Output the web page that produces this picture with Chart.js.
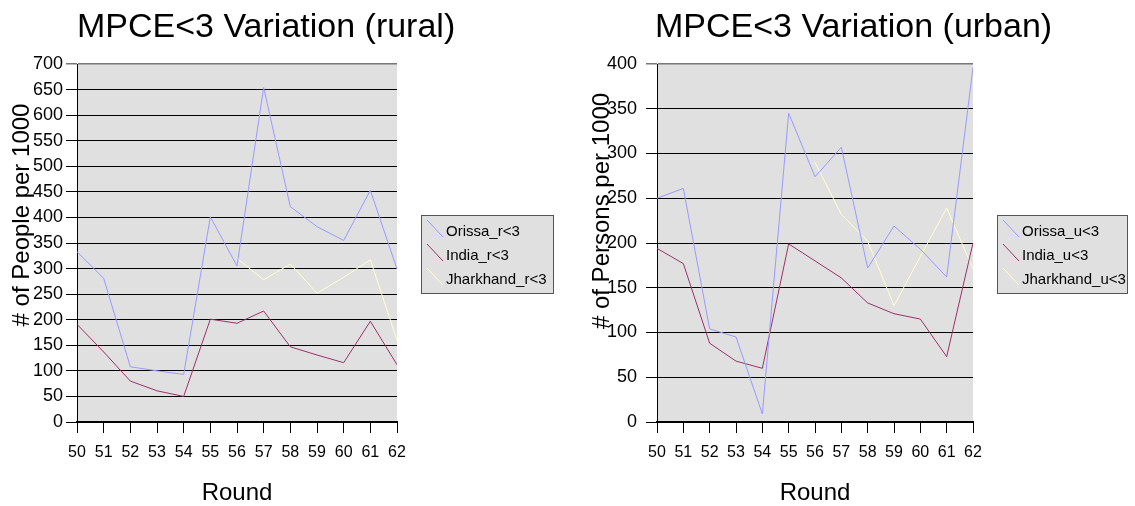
<!DOCTYPE html>
<html><head><meta charset="utf-8">
<script src="https://cdn.jsdelivr.net/npm/chart.js@4.4.1/dist/chart.umd.min.js"></script>
<style>
html,body{margin:0;padding:0;background:#fff;width:1135px;height:506px;overflow:hidden}
canvas{position:absolute;top:0}
#c1{left:0}
#c2{left:567px}
</style></head><body>
<canvas id="c1" width="567" height="506"></canvas>
<canvas id="c2" width="568" height="506"></canvas>
<script>
const rounds = ['50','51','52','53','54','55','56','57','58','59','60','61','62'];
const orissaRural = [333, 281, 108, 100, 93, 401, 305, 654, 421, 382, 355, 453, 299];
const indiaRural = [191, 137, 80, 61, 50, 201, 193, 217, 147, 131, 116, 197, 112];
const jharkhandRural = [null, null, null, null, null, null, 320, 278, 309, 252, 283, 317, 160];
const orissaUrban = [250, 261, 104, 95, 9, 345, 274, 307, 172, 219, 193, 162, 396];
const indiaUrban = [194, 177, 88, 68, 60, 199, 180, 161, 133, 121, 115, 73, 200];
const jharkhandUrban = [null, null, null, null, null, null, 290, 232, 202, 130, 185, 239, 171];
const ruralNames = ['Orissa_r<3', 'India_r<3', 'Jharkhand_r<3'];
const urbanNames = ['Orissa_u<3', 'India_u<3', 'Jharkhand_u<3'];
const seriesColors = ['#9999ff', '#993366', '#ffffcc'];

const FONT = '"Liberation Sans", Arial, sans-serif';

const bgPlugin = {
  id: 'plotBg',
  beforeDraw(chart) {
    const a = chart.chartArea, ctx = chart.ctx;
    ctx.save();
    ctx.fillStyle = '#e0e0e0';
    ctx.fillRect(a.left, a.top, a.right - a.left, a.bottom - a.top);
    ctx.restore();
  }
};

const annotPlugin = {
  id: 'annot',
  afterDraw(chart, args, o) {
    const ctx = chart.ctx;
    ctx.save();
    ctx.fillStyle = '#000';
    ctx.font = '34px ' + FONT;
    ctx.textAlign = 'left';
    ctx.textBaseline = 'alphabetic';
    ctx.fillText(o.title, o.titleX, o.titleY);

    ctx.save();
    ctx.translate(o.yTitleX, o.yTitleY);
    ctx.rotate(-Math.PI / 2);
    ctx.font = '24px ' + FONT;
    ctx.textAlign = 'center';
    ctx.textBaseline = 'middle';
    ctx.fillText(o.yTitle, 0, 0);
    ctx.restore();

    const L = o.legend;
    ctx.fillStyle = '#e0e0e0';
    ctx.fillRect(L.x, L.y, L.w, L.h);
    ctx.strokeStyle = '#555';
    ctx.lineWidth = 1;
    ctx.strokeRect(L.x + 0.5, L.y + 0.5, L.w - 1, L.h - 1);
    ctx.font = '15px ' + FONT;
    ctx.textAlign = 'left';
    ctx.textBaseline = 'middle';
    chart.data.datasets.forEach((ds, i) => {
      const ty = L.y + 17 + i * 24;
      ctx.strokeStyle = ds.borderColor;
      ctx.beginPath();
      ctx.moveTo(L.x + 6, ty - 12);
      ctx.lineTo(L.x + 22, ty + 5);
      ctx.stroke();
      ctx.fillStyle = '#000';
      ctx.fillText(ds.label, L.x + 25, ty);
    });
    ctx.restore();
  }
};

function makeChart(id, cfg) {
  return new Chart(document.getElementById(id), {
    type: 'line',
    data: {
      labels: rounds,
      datasets: cfg.series.map((d, i) => ({
        label: cfg.names[i], data: d, borderColor: seriesColors[i],
        borderWidth: 1, pointRadius: 0, tension: 0, spanGaps: false, fill: false
      }))
    },
    options: {
      responsive: false, animation: false, devicePixelRatio: 1,
      layout: { padding: { left: 0, right: cfg.padRight, top: 64, bottom: 0 } },
      plugins: {
        legend: { display: false }, title: { display: false }, tooltip: { enabled: false },
        annot: cfg.annot
      },
      scales: {
        x: {
          type: 'category', offset: false,
          grid: { display: true, drawOnChartArea: false, drawTicks: true, tickLength: 11, color: '#000', lineWidth: 1 },
          border: { display: true, color: '#000', width: 2 },
          ticks: { font: { family: FONT, size: 16 }, color: '#000', padding: 10, maxRotation: 0, autoSkip: false },
          title: { display: true, text: 'Round', color: '#000', font: { family: FONT, size: 24, lineHeight: 1 }, padding: { top: 0, bottom: 1 } },
          afterFit: s => { s.height = 506 - 422; }
        },
        y: {
          min: 0, max: cfg.max,
          ticks: { stepSize: 50, font: { family: FONT, size: 18 }, color: '#000', padding: cfg.tickPad },
          grid: { color: c => (c.tick && c.tick.value === cfg.max) ? '#777' : '#000', lineWidth: c => (c.tick && c.tick.value === cfg.max) ? 1.5 : 1, tickLength: 11 },
          border: { display: true, color: '#000', width: 1 },
          afterFit: s => { s.width = cfg.plotLeft; }
        }
      }
    },
    plugins: [bgPlugin, annotPlugin]
  });
}

makeChart('c1', {
  series: [orissaRural, indiaRural, jharkhandRural], names: ruralNames,
  max: 700, plotLeft: 77, padRight: 567 - 397, tickPad: 3,
  annot: { title: 'MPCE<3 Variation (rural)', titleX: 77, titleY: 37,
    yTitle: '# of People per 1000', yTitleX: 22.5, yTitleY: 215,
    legend: { x: 421, y: 215, w: 133, h: 79 } }
});
makeChart('c2', {
  series: [orissaUrban, indiaUrban, jharkhandUrban], names: urbanNames,
  max: 400, plotLeft: 90, padRight: 568 - 406, tickPad: 9,
  annot: { title: 'MPCE<3 Variation (urban)', titleX: 88, titleY: 37,
    yTitle: '# of Persons per 1000', yTitleX: 35.5, yTitleY: 211,
    legend: { x: 430, y: 215, w: 131, h: 79 } }
});
</script>
</body></html>
